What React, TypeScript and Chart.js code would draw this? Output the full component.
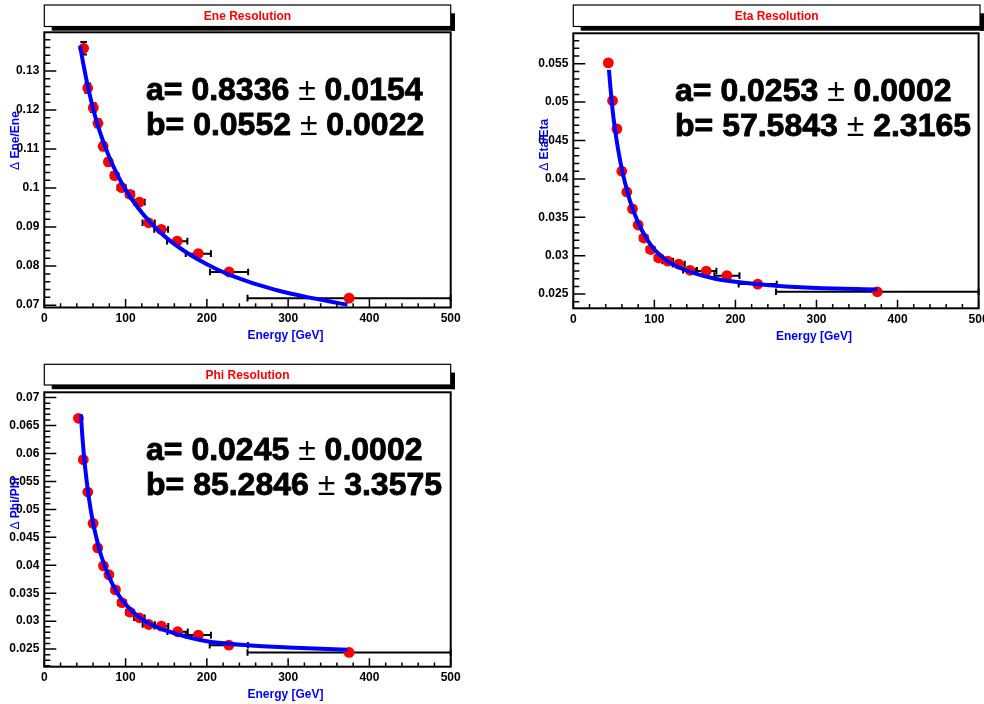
import React, { useEffect, useRef } from "react";
import { Chart, registerables } from "chart.js";

Chart.register(...registerables);

// ---------- Data ----------
const X_TICKS = [0, 100, 200, 300, 400, 500];

// Energy resolution
const eneEnergy = [48.4, 53.4, 60.3, 66, 72.4, 78.8, 86.6, 95.2, 105.4, 117, 128.4, 143.8, 163.5, 189.5, 227.3, 375];
const eneRes = [0.1358, 0.1256, 0.1206, 0.1166, 0.1107, 0.1067, 0.1032, 0.1001, 0.0984, 0.0964, 0.0911, 0.0894, 0.0864, 0.0832, 0.0785, 0.0718];
const eneXErr = [2.5, 2.5, 3, 3, 3.5, 3.5, 4.5, 5, 5, 6.5, 7.5, 8.5, 12.5, 15.5, 23.5, 125];
const eneYErr = [0.0016, 0.0012, 0.0011, 0.001, 0.001, 0.0009, 0.0009, 0.0008, 0.0008, 0.0008, 0.0007, 0.0007, 0.0007, 0.0006, 0.0006, 0.0005];
const eneFitE = [44, 48, 52, 56, 60, 65, 70, 75, 80, 90, 100, 115, 130, 150, 175, 200, 225, 250, 275, 300, 325, 350, 373];
const eneFitRes = [0.1364, 0.1318, 0.1276, 0.1238, 0.1204, 0.1166, 0.1134, 0.1105, 0.1079, 0.1034, 0.0996, 0.095, 0.0913, 0.0873, 0.0835, 0.0805, 0.078, 0.0761, 0.0745, 0.0731, 0.072, 0.071, 0.0701];
const eneYTicks = [0.07, 0.08, 0.09, 0.1, 0.11, 0.12, 0.13];

// Eta resolution
const etaEnergy = [43.2, 48.4, 53.8, 59.8, 66, 73, 80, 87, 95.5, 105.5, 116.5, 130, 144, 164, 189.5, 227.5, 375];
const etaRes = [0.0551, 0.0502, 0.0465, 0.041, 0.0383, 0.0361, 0.034, 0.0323, 0.0308, 0.0297, 0.0293, 0.0289, 0.0281, 0.028, 0.0274, 0.0263, 0.0253];
const etaXErr = [2.5, 2.5, 2.5, 3, 3, 3.5, 3.5, 4.5, 5, 5, 6.5, 7.5, 8.5, 12.5, 15.5, 23.5, 125];
const etaYErr = [0.0004, 0.0003, 0.0003, 0.0003, 0.0002, 0.0002, 0.0002, 0.0002, 0.0002, 0.0002, 0.0002, 0.0002, 0.0002, 0.0002, 0.0002, 0.0002, 0.0002];
const etaFitE = [44, 46, 48, 50, 55, 60, 65, 70, 80, 90, 100, 115, 130, 150, 175, 200, 250, 300, 375];
const etaFitRes = [0.0542, 0.0517, 0.0495, 0.0476, 0.044, 0.0412, 0.039, 0.0371, 0.0343, 0.0323, 0.0308, 0.0294, 0.0285, 0.0277, 0.027, 0.0266, 0.0261, 0.0258, 0.0256];
const etaYTicks = [0.025, 0.03, 0.035, 0.04, 0.045, 0.05, 0.055];

// Phi resolution
const phiEnergy = [42, 48, 53.5, 60, 65.7, 72.8, 79.5, 87.5, 95.6, 105.5, 117, 128.5, 144, 164, 189.5, 227, 375];
const phiRes = [0.0663, 0.0589, 0.0531, 0.0475, 0.0431, 0.0399, 0.0383, 0.0356, 0.0333, 0.0316, 0.0306, 0.0294, 0.0291, 0.0281, 0.0275, 0.0257, 0.0244];
const phiXErr = [2.5, 2.5, 2.5, 3, 3, 3.5, 3.5, 4.5, 5, 5, 6.5, 7.5, 8.5, 12.5, 15.5, 23.5, 125];
const phiYErr = [0.0004, 0.0003, 0.0003, 0.0003, 0.0002, 0.0002, 0.0002, 0.0002, 0.0002, 0.0002, 0.0002, 0.0002, 0.0002, 0.0002, 0.0002, 0.0002, 0.0002];
const phiFitE = [45, 47, 50, 55, 60, 65, 70, 80, 90, 100, 115, 130, 150, 175, 200, 250, 300, 373];
const phiFitRes = [0.067, 0.0627, 0.0578, 0.0519, 0.0476, 0.0444, 0.0417, 0.0378, 0.035, 0.033, 0.0309, 0.0295, 0.0283, 0.0272, 0.0264, 0.0257, 0.0253, 0.0249];
const phiYTicks = [0.025, 0.03, 0.035, 0.04, 0.045, 0.05, 0.055, 0.06, 0.065, 0.07];

// ---------- Layout / style ----------
const FONT = "'Liberation Sans', Arial, Helvetica, sans-serif";

type Panel = {
  key: string;
  canvas: { left: number; top: number; w: number; h: number };
  area: { left: number; top: number; right: number; bottom: number };
  titleBox: { left: number; top: number; right: number; bottom: number };
  title: string;
  yTitle: string;
  fit: [string, string, string][];
  energy: number[];
  res: number[];
  xErr: number[];
  yErr: number[];
  fitE: number[];
  fitRes: number[];
  yMin: number;
  yMax: number;
  yTicks: number[];
  yMajor: number;
  yMinor: number;
};

const PANELS: Panel[] = [
  {
    key: "ene",
    canvas: { left: 0, top: 0, w: 492, h: 352 },
    area: { left: 44.3, top: 32.3, right: 450.7, bottom: 307.5 },
    titleBox: { left: 44.3, top: 5, right: 450.7, bottom: 26.5 },
    title: "Ene Resolution",
    yTitle: "Ene/Ene",
    fit: [["a= ", "0.8336", "0.0154"], ["b= ", "0.0552", "0.0022"]],
    energy: eneEnergy, res: eneRes, xErr: eneXErr, yErr: eneYErr,
    fitE: eneFitE, fitRes: eneFitRes,
    yMin: 0.0694, yMax: 0.1399, yTicks: eneYTicks, yMajor: 0.01, yMinor: 0.002,
  },
  {
    key: "eta",
    canvas: { left: 492, top: 0, w: 492, h: 352 },
    area: { left: 81.3, top: 33.3, right: 488, bottom: 308.3 },
    titleBox: { left: 81.3, top: 5, right: 488, bottom: 26.5 },
    title: "Eta Resolution",
    yTitle: "Eta/Eta",
    fit: [["a= ", "0.0253", "0.0002"], ["b= ", "57.5843", "2.3165"]],
    energy: etaEnergy, res: etaRes, xErr: etaXErr, yErr: etaYErr,
    fitE: etaFitE, fitRes: etaFitRes,
    yMin: 0.02315, yMax: 0.05896, yTicks: etaYTicks, yMajor: 0.005, yMinor: 0.001,
  },
  {
    key: "phi",
    canvas: { left: 0, top: 352, w: 492, h: 352 },
    area: { left: 44.3, top: 40.3, right: 450.7, bottom: 314.7 },
    titleBox: { left: 44.3, top: 12.3, right: 450.7, bottom: 33 },
    title: "Phi Resolution",
    yTitle: "Phi/Phi",
    fit: [["a= ", "0.0245", "0.0002"], ["b= ", "85.2846", "3.3575"]],
    energy: phiEnergy, res: phiRes, xErr: phiXErr, yErr: phiYErr,
    fitE: phiFitE, fitRes: phiFitRes,
    yMin: 0.02185, yMax: 0.07095, yTicks: phiYTicks, yMajor: 0.005, yMinor: 0.001,
  },
];

function makePlugin(p: Panel) {
  return {
    id: "rootStyle_" + p.key,
    beforeDatasetsDraw(chart: any) {
      const ctx = chart.ctx as CanvasRenderingContext2D;
      const xs = chart.scales.x;
      const ys = chart.scales.y;
      ctx.save();
      ctx.strokeStyle = "#000";
      ctx.lineWidth = 2;
      const cap = 3.3;
      p.energy.forEach((e, i) => {
        const x = xs.getPixelForValue(e);
        const y = ys.getPixelForValue(p.res[i]);
        const x0 = xs.getPixelForValue(e - p.xErr[i]);
        const x1 = xs.getPixelForValue(e + p.xErr[i]);
        const yt = ys.getPixelForValue(p.res[i] + p.yErr[i]);
        const yb = ys.getPixelForValue(p.res[i] - p.yErr[i]);
        ctx.beginPath();
        ctx.moveTo(x0, y); ctx.lineTo(x1, y);
        ctx.moveTo(x0, y - cap); ctx.lineTo(x0, y + cap);
        ctx.moveTo(x1, y - cap); ctx.lineTo(x1, y + cap);
        ctx.moveTo(x, yt); ctx.lineTo(x, yb);
        ctx.moveTo(x - cap, yt); ctx.lineTo(x + cap, yt);
        ctx.moveTo(x - cap, yb); ctx.lineTo(x + cap, yb);
        ctx.stroke();
      });
      ctx.restore();
    },
    afterDraw(chart: any) {
      const ctx = chart.ctx as CanvasRenderingContext2D;
      const xs = chart.scales.x;
      const ys = chart.scales.y;
      const { left, right, top, bottom } = chart.chartArea;
      ctx.save();
      // frame
      ctx.strokeStyle = "#000";
      ctx.lineWidth = 2;
      ctx.strokeRect(left, top, right - left, bottom - top);
      // x ticks (inside, upward)
      ctx.lineWidth = 1.5;
      ctx.beginPath();
      for (let v = 0; v <= 500; v += 20) {
        const x = xs.getPixelForValue(v);
        const major = v % 100 === 0;
        ctx.moveTo(x, bottom);
        ctx.lineTo(x, bottom - (major ? 8.5 : 4.3));
      }
      // y ticks (inside, rightward)
      const k0 = Math.ceil(p.yMin / p.yMinor - 1e-6);
      for (let k = k0; k * p.yMinor <= p.yMax + 1e-9; k++) {
        const v = k * p.yMinor;
        const r = v / p.yMajor;
        const major = Math.abs(r - Math.round(r)) < 1e-6;
        const y = ys.getPixelForValue(v);
        ctx.moveTo(left, y);
        ctx.lineTo(left + (major ? 12 : 6), y);
      }
      ctx.stroke();

      // title box with shadow
      const tb = p.titleBox;
      ctx.fillStyle = "#000";
      ctx.fillRect(tb.left + 7.4, tb.bottom, tb.right - tb.left - 7.4 + 4.3, 4.2);
      ctx.fillRect(tb.right, tb.top + 8.3, 4.3, tb.bottom - tb.top - 8.3 + 4.2);
      ctx.fillStyle = "#fff";
      ctx.fillRect(tb.left, tb.top, tb.right - tb.left, tb.bottom - tb.top);
      ctx.strokeStyle = "#000";
      ctx.lineWidth = 1.2;
      ctx.strokeRect(tb.left, tb.top, tb.right - tb.left, tb.bottom - tb.top);
      ctx.fillStyle = "#ff0000";
      ctx.font = `bold 12px ${FONT}`;
      ctx.textAlign = "center";
      ctx.textBaseline = "alphabetic";
      ctx.fillText(p.title, (tb.left + tb.right) / 2, tb.top + 14.6);

      // x axis title (starts at axis centre)
      ctx.fillStyle = "#0000ff";
      ctx.textAlign = "left";
      ctx.font = `bold 12px ${FONT}`;
      ctx.fillText("Energy [GeV]", (left + right) / 2, bottom + 31.5);

      // y axis title (rotated, starts at axis centre going up)
      ctx.save();
      ctx.translate(left - 25, (top + bottom) / 2);
      ctx.rotate(-Math.PI / 2);
      ctx.textAlign = "left";
      ctx.font = `12px ${FONT}`;
      const dPart = "\u0394 ";
      ctx.fillText(dPart, 0, 0);
      const dw = ctx.measureText(dPart).width;
      ctx.font = `bold 12px ${FONT}`;
      ctx.fillText(p.yTitle, dw, 0);
      ctx.restore();

      // fit parameters
      ctx.fillStyle = "#000";
      ctx.strokeStyle = "#000";
      ctx.lineWidth = 0.9;
      ctx.lineJoin = "round";
      ctx.textAlign = "left";
      p.fit.forEach((line, li) => {
        let x = left + 101.7;
        const y = top + 67.5 + li * 35;
        ctx.font = `bold 32px ${FONT}`;
        const s1 = line[0] + line[1] + " ";
        ctx.fillText(s1, x, y);
        ctx.strokeText(s1, x, y);
        x += ctx.measureText(s1).width;
        ctx.font = `32px ${FONT}`;
        ctx.fillText("\u00B1", x, y);
        x += ctx.measureText("\u00B1").width;
        ctx.font = `bold 32px ${FONT}`;
        ctx.fillText(" " + line[2], x, y);
        ctx.strokeText(" " + line[2], x, y);
      });
      ctx.restore();
    },
  };
}

function PanelChart({ p }: { p: Panel }) {
  const ref = useRef<HTMLCanvasElement | null>(null);
  useEffect(() => {
    const canvas = ref.current;
    if (!canvas) return;
    const { w, h } = p.canvas;
    const tickFont = { family: FONT, size: 12, weight: "bold" as const };
    const chart = new Chart(canvas, {
      type: "scatter",
      data: {
        datasets: [
          {
            label: "fit",
            data: p.fitE.map((e, i) => ({ x: e, y: p.fitRes[i] })),
            showLine: true,
            borderColor: "#0000ff",
            borderWidth: 4,
            pointRadius: 0,
            fill: false,
            cubicInterpolationMode: "monotone",
            order: 0,
          } as any,
          {
            label: "data",
            data: p.energy.map((e, i) => ({ x: e, y: p.res[i] })),
            showLine: false,
            pointRadius: 5.4,
            pointBackgroundColor: "#ff0000",
            pointBorderColor: "#ff0000",
            pointBorderWidth: 0,
            order: 1,
          } as any,
        ],
      },
      options: {
        responsive: false,
        animation: false,
        devicePixelRatio: 1,
        events: [],
        layout: {
          padding: { left: 0, top: p.area.top, right: w - p.area.right, bottom: 0 },
        },
        plugins: {
          legend: { display: false },
          tooltip: { enabled: false },
          title: { display: false },
        },
        scales: {
          x: {
            type: "linear",
            min: 0,
            max: 500,
            grid: { display: false, drawTicks: false },
            border: { display: false },
            ticks: {
              font: tickFont,
              color: "#000",
              padding: 4,
              maxRotation: 0,
              autoSkip: false,
              callback: (v: any) => String(v),
            },
            afterBuildTicks: (s: any) => {
              s.ticks = X_TICKS.map((v) => ({ value: v }));
            },
            afterFit: (s: any) => {
              s.height = h - p.area.bottom;
              s.paddingLeft = 0;
              s.paddingRight = 0;
            },
          },
          y: {
            type: "linear",
            min: p.yMin,
            max: p.yMax,
            grid: { display: false, drawTicks: false },
            border: { display: false },
            ticks: {
              font: tickFont,
              color: "#000",
              padding: 5,
              autoSkip: false,
              callback: (v: any) => String(v),
            },
            afterBuildTicks: (s: any) => {
              s.ticks = p.yTicks.map((v) => ({ value: v }));
            },
            afterFit: (s: any) => {
              s.width = p.area.left;
              s.paddingTop = 0;
              s.paddingBottom = 0;
            },
          },
        },
      } as any,
      plugins: [makePlugin(p)],
    });
    return () => chart.destroy();
  }, [p]);
  return (
    <canvas
      ref={ref}
      width={p.canvas.w}
      height={p.canvas.h}
      style={{
        position: "absolute",
        left: p.canvas.left,
        top: p.canvas.top,
        width: p.canvas.w,
        height: p.canvas.h,
      }}
    />
  );
}

export default function App() {
  return (
    <div
      style={{
        position: "absolute",
        left: 0,
        top: 0,
        width: 984,
        height: 704,
        background: "#fff",
        overflow: "hidden",
      }}
    >
      {PANELS.map((p) => (
        <PanelChart key={p.key} p={p} />
      ))}
    </div>
  );
}
